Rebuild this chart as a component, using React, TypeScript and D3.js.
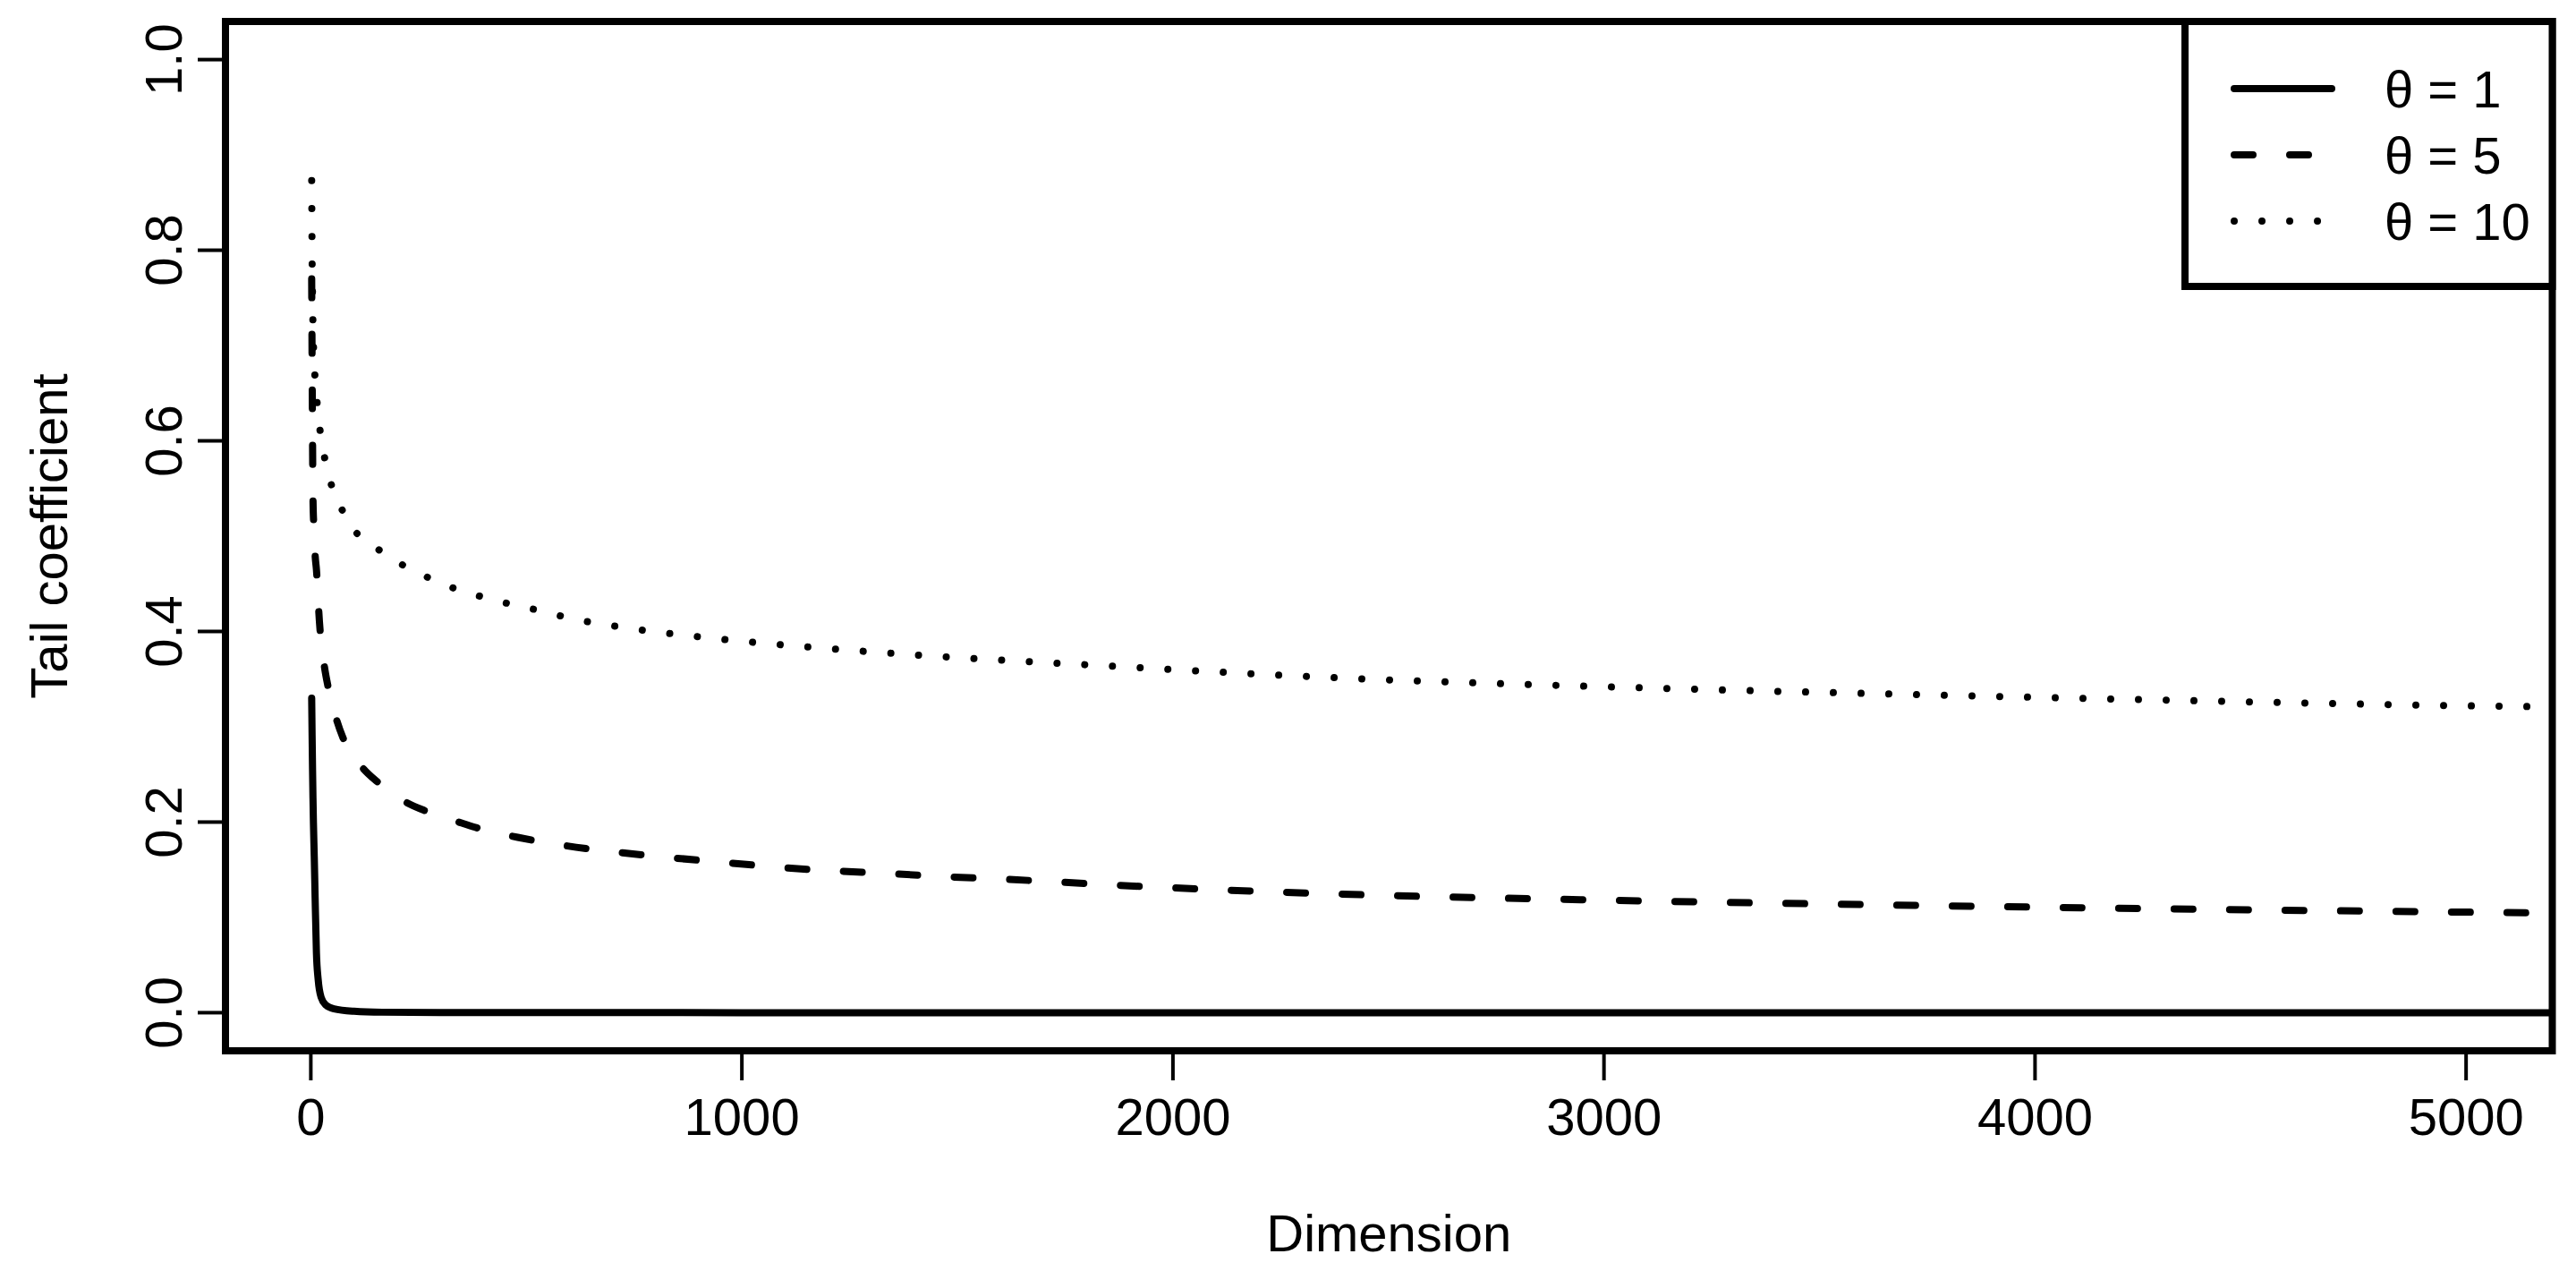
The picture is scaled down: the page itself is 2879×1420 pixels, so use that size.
import React from 'react';
import * as d3 from 'd3';

// theta = 1
const dimsTheta1 = [2, 3, 4, 5, 6, 8, 10, 13, 17, 24, 35, 54, 100, 165, 300, 1000, 5300];
const tailTheta1 = [0.33, 0.29, 0.255, 0.225, 0.2, 0.163, 0.12, 0.063, 0.035, 0.016, 0.008, 0.004, 0.0015, 0.0005, 0.0002, 0, 0];

// theta = 5
const dimsTheta5 = [2, 3, 4, 5, 7, 10, 13, 20, 30, 40, 60, 75, 120, 155, 220, 270, 350, 400, 480, 594, 720, 850, 975, 1100, 1230, 1360, 1480, 1610, 1740, 1860, 2370, 3010, 3650, 4290, 5000, 5300];
const tailTheta5 = [0.77, 0.68, 0.6, 0.54, 0.51, 0.48, 0.465, 0.41, 0.368, 0.342, 0.307, 0.288, 0.257, 0.242, 0.221, 0.211, 0.199, 0.192, 0.184, 0.175, 0.168, 0.162, 0.157, 0.152, 0.1485, 0.1455, 0.1425, 0.14, 0.137, 0.134, 0.1247, 0.118, 0.1131, 0.109, 0.1055, 0.104];

// theta = 10
const dimsTheta10 = [2, 3, 4, 5, 7, 10, 15, 20, 30, 45, 70, 100, 160, 220, 280, 340, 400, 470, 540, 600, 700, 950, 1200, 1450, 1800, 2400, 3000, 3700, 4300, 5000, 5300];
const tailTheta10 = [0.873, 0.79, 0.75, 0.72, 0.69, 0.665, 0.638, 0.616, 0.587, 0.558, 0.53, 0.507, 0.485, 0.468, 0.455, 0.444, 0.436, 0.428, 0.421, 0.414, 0.406, 0.392, 0.382, 0.374, 0.365, 0.351, 0.342, 0.334, 0.328, 0.322, 0.3205];

const xTicks = [0, 1000, 2000, 3000, 4000, 5000];
const yTicks = [0, 0.2, 0.4, 0.6, 0.8, 1.0];
const thetaLabels = ['1', '5', '10'];

const FONT = '"Liberation Sans", Arial, Helvetica, sans-serif';

export default function App() {
  const width = 2879, height = 1420;

  const x = d3.scaleLinear().domain([-198, 5200]).range([252, 2852.5]);
  const y = d3.scaleLinear().domain([-0.04, 1.04]).range([1174, 24]);

  const line = d3.line<[number, number]>()
    .x(d => x(d[0]))
    .y(d => y(d[1]))
    .curve(d3.curveMonotoneX);

  const zip = (a: number[], b: number[]) => a.map((v, i) => [v, b[i]] as [number, number]);

  const series = [
    { dims: dimsTheta1, vals: tailTheta1, dash: 'none' },
    { dims: dimsTheta5, vals: tailTheta5, dash: '21 41' },
    { dims: dimsTheta10, vals: tailTheta10, dash: '0.01 31' },
  ];

  const [x0, x1] = x.range();
  const [yb, yt] = y.range();

  // legend box in the top right corner
  const legX0 = 2442, legY0 = yt, legX1 = x1, legY1 = 320;

  return (
    <svg width={width} height={height} style={{ position: 'absolute', left: 0, top: 0, background: '#fff' }}
      fontFamily={FONT} fontSize={58}>
      <defs>
        <clipPath id="plot-clip">
          <rect x={x0} y={yt} width={x1 - x0} height={yb - yt} />
        </clipPath>
      </defs>
      <rect x={0} y={0} width={width} height={height} fill="#fff" />

      <g clipPath="url(#plot-clip)">
        {series.map((s, i) => (
          <path key={i} d={line(zip(s.dims, s.vals)) || ''} fill="none" stroke="#000" strokeWidth={8}
            strokeDasharray={s.dash} strokeLinecap="round" strokeLinejoin="round" />
        ))}
      </g>

      {/* y axis */}
      {yTicks.map(t => (
        <g key={t}>
          <line x1={221} x2={x0} y1={y(t)} y2={y(t)} stroke="#000" strokeWidth={4} />
          <text transform={`translate(203,${y(t)}) rotate(-90)`} textAnchor="middle">{t.toFixed(1)}</text>
        </g>
      ))}
      <text transform={`translate(75,${(yb + yt) / 2}) rotate(-90)`} textAnchor="middle">Tail coefficient</text>

      {/* x axis */}
      {xTicks.map(t => (
        <g key={t}>
          <line x1={x(t)} x2={x(t)} y1={yb} y2={1207} stroke="#000" strokeWidth={4} />
          <text x={x(t)} y={1268} textAnchor="middle">{t}</text>
        </g>
      ))}
      <text x={(x0 + x1) / 2} y={1398} textAnchor="middle">Dimension</text>

      {/* plot frame */}
      <rect x={x0} y={yt} width={x1 - x0} height={yb - yt} fill="none" stroke="#000" strokeWidth={8} />

      {/* legend */}
      <rect x={legX0} y={legY0} width={legX1 - legX0} height={legY1 - legY0} fill="#fff" stroke="#000" strokeWidth={8} />
      {series.map((s, i) => {
        const ly = 99 + i * 74;
        return (
          <g key={i}>
            <line x1={2497} x2={2606} y1={ly} y2={ly} stroke="#000" strokeWidth={8}
              strokeDasharray={s.dash} strokeLinecap="round" />
            <text x={2665} y={ly + 21}>{'θ = ' + thetaLabels[i]}</text>
          </g>
        );
      })}
    </svg>
  );
}
